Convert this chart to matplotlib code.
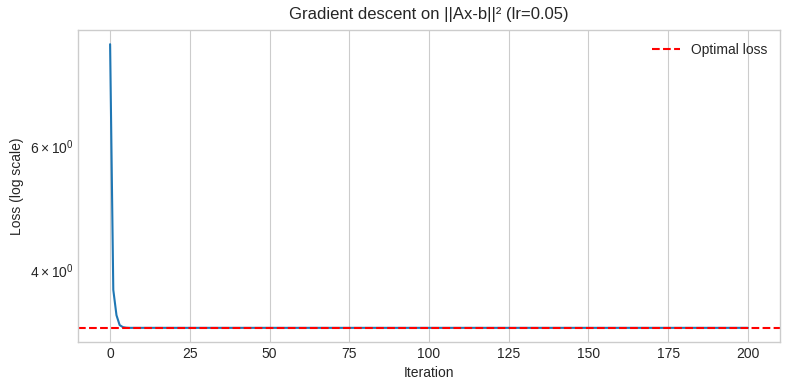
import numpy as np
import matplotlib
matplotlib.use("Agg")
import matplotlib.pyplot as plt

plt.style.use("seaborn-v0_8-whitegrid")
plt.rcParams['font.family'] = ['Liberation Sans', 'DejaVu Sans']

# loss per iteration, tail is flat at the optimum
head = [8.40, 3.75, 3.45, 3.34, 3.318, 3.312]
tail = [3.31] * 195
losses = np.array(head + tail)
iters = np.arange(len(losses))
optimal_loss = 3.31

fig, ax = plt.subplots(figsize=(7.9, 3.9), dpi=100)
ax.plot(iters, losses, color="#1f77b4")
ax.axhline(optimal_loss, color="red", linestyle="--", label="Optimal loss")
ax.set_yscale("log")
ax.set_xlabel("Iteration")
ax.set_ylabel("Loss (log scale)")
ax.set_title("Gradient descent on ||Ax-b||² (lr=0.05)", pad=8)
ax.legend()
fig.subplots_adjust(left=0.099, right=0.987, top=0.923, bottom=0.123)
fig.savefig("out.png")
